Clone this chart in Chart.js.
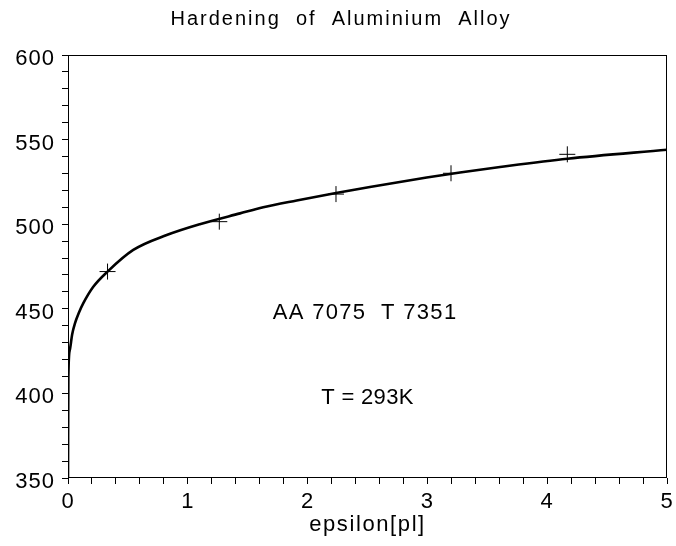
<!DOCTYPE html>
<html lang="en">
<head>
<title>Hardening of Aluminium Alloy</title>
<meta charset="UTF-8">
<style>
body {margin:0; background:#fff; overflow:hidden;}
canvas {display:block;}
</style>
<script src="https://cdn.jsdelivr.net/npm/chart.js@4.4.1/dist/chart.umd.min.js"></script>
</head>
<body>
<canvas id="chartHardening" width="676" height="546"></canvas>

<script>
// curve (epsilon[pl], stress)
var curveEps   = [0, 0.003, 0.015, 0.035, 0.058, 0.09, 0.128, 0.211, 0.33, 0.545, 0.824, 1.10, 1.436, 1.63, 1.909, 2.237, 2.52, 2.994, 3.272, 3.606, 4.168, 5.0];
var curveSigma = [350, 410, 425.6, 435, 441.4, 447.5, 453.3, 463, 472, 484.8, 493.6, 500, 506.4, 510, 514, 518.4, 522, 527.6, 530.6, 533.8, 538.7, 544];

// measured points (crosses)
var measEps   = [0.33, 1.263, 2.237, 3.197, 4.168];
var measSigma = [472, 501.5, 517.8, 530.1, 541.3];

// tick labels
var xTickLabels = ["0", "1", "2", "3", "4", "5"];
var yTickLabels = ["350", "400", "450", "500", "550", "600"];

// texts
var titleText = "Hardening  of  Aluminium  Alloy";
var xTitleText = "epsilon[pl]";
var notes = ["AA 7075  T 7351", "T = 293K"];
var noteX = [2.48, 2.5];
var noteY = [447.7, 397.1];

var FONT = "'Liberation Sans', Arial, sans-serif";
Chart.defaults.font.family = FONT;
Chart.defaults.color = "#000";

function toPoints(xs, ys) {
  var out = [];
  for (var i = 0; i < xs.length; i++) out.push({x: xs[i], y: ys[i]});
  return out;
}

function drawText(ctx, txt, x, y, size, sp) {
  ctx.letterSpacing = sp + "px";
  ctx.font = size + "px " + FONT;
  ctx.fillText(txt, x, y);
}

// wide letter spacing like the original plot font (tick labels)
var spacing = {
  id: "spacing",
  beforeLayout: function(chart) { chart.ctx.letterSpacing = "1px"; },
  beforeDraw: function(chart) { chart.ctx.letterSpacing = "1px"; }
};

// box round the plot, title, axis title, notes
var frame = {
  id: "frame",
  afterDraw: function(chart) {
    var ctx = chart.ctx, a = chart.chartArea;
    var sx = chart.scales.x, sy = chart.scales.y;
    ctx.save();
    ctx.strokeStyle = "#000";
    ctx.lineWidth = 1;
    ctx.strokeRect(Math.round(a.left) + 0.5, Math.round(a.top) + 0.5,
                   Math.round(a.right - a.left) - 1, Math.round(a.bottom - a.top) - 1);
    ctx.fillStyle = "#000";
    ctx.textAlign = "center";
    ctx.textBaseline = "middle";
    drawText(ctx, titleText, 341, 19, 20, 2);
    drawText(ctx, xTitleText, (a.left + a.right) / 2, 525, 22, 1.6);
    drawText(ctx, notes[0], sx.getPixelForValue(noteX[0]), sy.getPixelForValue(noteY[0]), 22, 1.3);
    drawText(ctx, notes[1], sx.getPixelForValue(noteX[1]), sy.getPixelForValue(noteY[1]), 22, 0.3);
    ctx.restore();
  }
};

new Chart("chartHardening", {
  type: "scatter",
  data: {
    datasets: [
      {
        data: toPoints(curveEps, curveSigma),
        showLine: true,
        cubicInterpolationMode: "monotone",
        borderColor: "#000",
        borderWidth: 2.6,
        pointRadius: 0,
        fill: false
      },
      {
        data: toPoints(measEps, measSigma),
        showLine: false,
        pointStyle: "cross",
        pointRadius: 8,
        borderColor: "#000",
        borderWidth: 1
      }
    ]
  },
  options: {
    responsive: false,
    animation: false,
    devicePixelRatio: 1,
    layout: {padding: {top: 55, right: 9, bottom: 0, left: 0}},
    plugins: {
      legend: {display: false},
      tooltip: {enabled: false},
      title: {display: false}
    },
    scales: {
      x: {
        type: "linear",
        min: 0,
        max: 5,
        afterFit: function(s) { s.height = 68; s.paddingLeft = 0; s.paddingRight = 0; },
        border: {display: false},
        grid: {drawOnChartArea: false, drawTicks: true, tickLength: 6, color: "#000"},
        ticks: {
          stepSize: 0.2,
          autoSkip: false,
          maxRotation: 0,
          padding: 5,
          font: {size: 22},
          color: "#000",
          callback: function(v) {
            var r = Math.round(v);
            return Math.abs(v - r) < 1e-6 && xTickLabels.indexOf(String(r)) >= 0 ? String(r) : "";
          }
        }
      },
      y: {
        type: "linear",
        min: 350,
        max: 600,
        afterFit: function(s) { s.width = 68; s.paddingTop = 0; s.paddingBottom = 0; },
        border: {display: false},
        grid: {drawOnChartArea: false, drawTicks: true, tickLength: 6, color: "#000"},
        ticks: {
          stepSize: 10,
          autoSkip: false,
          padding: 7,
          labelOffset: 4,
          font: {size: 22},
          color: "#000",
          callback: function(v) {
            return yTickLabels.indexOf(String(v)) >= 0 ? String(v) : "";
          }
        }
      }
    }
  },
  plugins: [spacing, frame]
});
</script>

</body>
</html>
